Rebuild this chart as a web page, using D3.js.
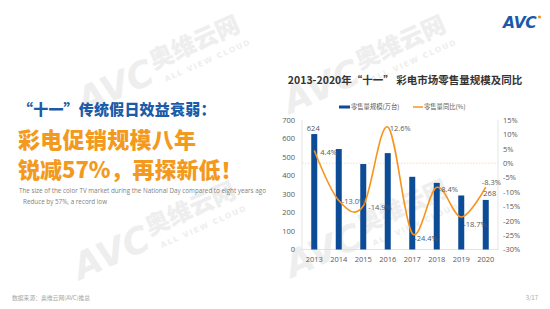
<!DOCTYPE html>
<html>
<head>
<meta charset="utf-8">
<script src="https://cdn.jsdelivr.net/npm/d3@7"></script>
<style>
  body { margin: 0; background: #fff; }
  svg { display: block; font-family: "Noto Sans CJK SC", "Noto Sans", sans-serif; }
</style>
</head>
<body>
<svg id="chart" width="550" height="309"></svg>
<script>
// data
var years = ["2013", "2014", "2015", "2016", "2017", "2018", "2019", "2020"];
var volume = [624, 543, 462, 521, 393, 360, 292, 268]; // 万台
var growth = [4.4, -13.0, -14.9, 12.6, -24.4, -8.4, -18.7, -8.3]; // %
var leftTicks = [0, 100, 200, 300, 400, 500, 600, 700];
var rightTicks = [-30, -25, -20, -15, -10, -5, 0, 5, 10, 15];
var shownVolumeLabels = ["2013", "2020"];

var svg = d3.select("#chart");
var blue = "#0c4c97";
var orange = "#f7941d";

// watermarks
function watermark(x, y) {
  var g = svg.append("g")
    .attr("transform", "translate(" + x + "," + y + ") rotate(-24)")
    .attr("fill", "#eeeeee");
  g.append("text")
    .attr("x", 0).attr("y", 0)
    .style("font-family", "'DejaVu Sans', sans-serif")
    .style("font-weight", "bold")
    .style("font-style", "italic")
    .style("font-size", "36px")
    .text("AVC");
  g.append("text")
    .attr("x", 82).attr("y", -12)
    .style("font-weight", "900")
    .style("font-size", "24px")
    .text("奥维云网");
  g.append("text")
    .attr("x", 88).attr("y", 4)
    .style("font-family", "'DejaVu Sans', sans-serif")
    .style("font-weight", "bold")
    .style("font-size", "7.5px")
    .style("letter-spacing", "1.6px")
    .text("ALL VIEW CLOUD");
}
watermark(84, 114);
watermark(290, 114);
watermark(80, 280);
watermark(292, 278);

// logo
var logo = svg.append("g");
logo.append("text")
  .attr("x", 503).attr("y", 28)
  .attr("fill", "#1a5aa8")
  .style("font-family", "'DejaVu Sans', sans-serif")
  .style("font-weight", "bold")
  .style("font-style", "italic")
  .style("font-size", "15.5px")
  .style("letter-spacing", "-0.3px")
  .text("AVC");
logo.append("circle")
  .attr("cx", 539.5).attr("cy", 17).attr("r", 1.6)
  .attr("fill", orange);

// left side headline
svg.append("text")
  .attr("x", 18).attr("y", 115)
  .attr("fill", "#1b5ba8")
  .style("font-weight", "900")
  .style("font-size", "15px")
  .style("letter-spacing", "0.2px")
  .text("“十一”传统假日效益衰弱：");
svg.append("text")
  .attr("x", 18).attr("y", 148)
  .attr("fill", "#f39a1e")
  .style("font-weight", "900")
  .style("font-size", "22px")
  .style("letter-spacing", "0.3px")
  .text("彩电促销规模八年");
svg.append("text")
  .attr("x", 18).attr("y", 178)
  .attr("fill", "#f39a1e")
  .style("font-weight", "900")
  .style("font-size", "22px")
  .text("锐减57%，再探新低！");
svg.append("text")
  .attr("x", 19).attr("y", 193)
  .attr("fill", "#7f7f7f")
  .style("font-family", "'Open Sans', sans-serif")
  .style("font-size", "6.3px")
  .text("The size of the color TV market during the National Day compared to eight years ago");
svg.append("text")
  .attr("x", 23).attr("y", 204)
  .attr("fill", "#7f7f7f")
  .style("font-family", "'Open Sans', sans-serif")
  .style("font-size", "6.3px")
  .text("Reduce by 57%, a record low");

// footer
svg.append("text")
  .attr("x", 12).attr("y", 300)
  .attr("fill", "#a6a6a6")
  .style("font-size", "5.8px")
  .text("数据来源：奥维云网(AVC)推总");
svg.append("text")
  .attr("x", 538).attr("y", 300)
  .attr("text-anchor", "end")
  .attr("fill", "#a6a6a6")
  .style("font-size", "6px")
  .text("3/17");

// chart title
svg.append("text")
  .attr("x", 405).attr("y", 84)
  .attr("text-anchor", "middle")
  .attr("fill", "#333")
  .style("font-weight", "bold")
  .style("font-size", "10.5px")
  .text("2013-2020年“十一” 彩电市场零售量规模及同比");

// scales
var plotL = 302, plotR = 498, plotT = 120, plotB = 249.5;
var x = d3.scaleBand().domain(years).range([plotL, plotR]);
var yL = d3.scaleLinear().domain([0, 700]).range([plotB, plotT]);
var yR = d3.scaleLinear().domain([-30, 15]).range([plotB, plotT]);

// frame
svg.append("g")
  .attr("stroke", "#d9d9d9").attr("stroke-width", 0.7).attr("fill", "none")
  .call(function (g) {
    g.append("line").attr("x1", plotL).attr("x2", plotL).attr("y1", plotT).attr("y2", plotB);
    g.append("line").attr("x1", plotR).attr("x2", plotR).attr("y1", plotT).attr("y2", plotB);
    g.append("line").attr("x1", plotL).attr("x2", plotR).attr("y1", plotB).attr("y2", plotB);
  });

// axes
var axisFont = "'Open Sans', 'Noto Sans', sans-serif";
var axL = svg.append("g")
  .attr("transform", "translate(" + (plotL - 3) + ",0)")
  .call(d3.axisLeft(yL).tickValues(leftTicks).tickSize(0).tickPadding(4));
var axR = svg.append("g")
  .attr("transform", "translate(" + (plotR + 2) + ",0)")
  .call(d3.axisRight(yR).tickValues(rightTicks).tickSize(0).tickPadding(3)
    .tickFormat(function (d) { return d + "%"; }));
var axB = svg.append("g")
  .attr("transform", "translate(0," + plotB + ")")
  .call(d3.axisBottom(x).tickSize(0).tickPadding(7));
[axL, axR, axB].forEach(function (a) {
  a.select(".domain").remove();
  a.selectAll(".tick text")
    .attr("fill", "#595959")
    .style("font-family", axisFont)
    .style("font-size", "7.5px");
});

// zero line
svg.append("line")
  .attr("x1", plotL).attr("x2", plotR)
  .attr("y1", yR(0)).attr("y2", yR(0))
  .attr("stroke", "#fbd3a4").attr("stroke-width", 0.8)
  .attr("stroke-dasharray", "1.5,1.5");

// bars
var barW = 6;
svg.selectAll(".bar")
  .data(years)
  .enter()
  .append("rect")
  .attr("class", "bar")
  .attr("x", function (d) { return x(d) + x.bandwidth() / 2 - barW / 2; })
  .attr("y", function (d, i) { return yL(volume[i]); })
  .attr("width", barW)
  .attr("height", function (d, i) { return plotB - yL(volume[i]); })
  .attr("fill", blue);

// line
var pts = years.map(function (d, i) {
  return [x(d) + x.bandwidth() / 2, yR(growth[i])];
});
svg.append("path")
  .datum(pts)
  .attr("fill", "none")
  .attr("stroke", orange)
  .attr("stroke-width", 1.6)
  .attr("d", d3.line().curve(d3.curveCardinal.tension(0)));

// labels
var labelOffsets = [[6, 4], [3, 3.5], [5, 4], [2, 3.7], [2, 8], [2, 5], [2, 10], [-4, -2]];
svg.selectAll(".glabel")
  .data(pts)
  .enter()
  .append("text")
  .attr("x", function (d, i) { return d[0] + labelOffsets[i][0]; })
  .attr("y", function (d, i) { return d[1] + labelOffsets[i][1]; })
  .attr("fill", "#595959")
  .style("font-family", axisFont)
  .style("font-size", "7.5px")
  .text(function (d, i) { return growth[i].toFixed(1) + "%"; });

svg.selectAll(".vlabel")
  .data(years.filter(function (d) { return shownVolumeLabels.indexOf(d) >= 0; }))
  .enter()
  .append("text")
  .attr("x", function (d) { return x(d) + x.bandwidth() / 2 + (d === "2020" ? 4 : -1); })
  .attr("y", function (d) { return yL(volume[years.indexOf(d)]) - 3.5; })
  .attr("text-anchor", "middle")
  .attr("fill", "#595959")
  .style("font-family", axisFont)
  .style("font-size", "7.5px")
  .text(function (d) { return volume[years.indexOf(d)]; });

// legend
var lg = svg.append("g").attr("transform", "translate(0,107)");
lg.append("rect").attr("x", 339).attr("y", -1.5).attr("width", 11).attr("height", 3).attr("fill", blue);
lg.append("text").attr("x", 351).attr("y", 2.3)
  .attr("fill", "#595959").style("font-size", "6.3px").text("零售量规模(万台)");
lg.append("line").attr("x1", 413).attr("x2", 423).attr("y1", 0).attr("y2", 0)
  .attr("stroke", orange).attr("stroke-width", 1.5);
lg.append("text").attr("x", 424).attr("y", 2.3)
  .attr("fill", "#595959").style("font-size", "6.3px").text("零售量同比(%)");
</script>
</body>
</html>
